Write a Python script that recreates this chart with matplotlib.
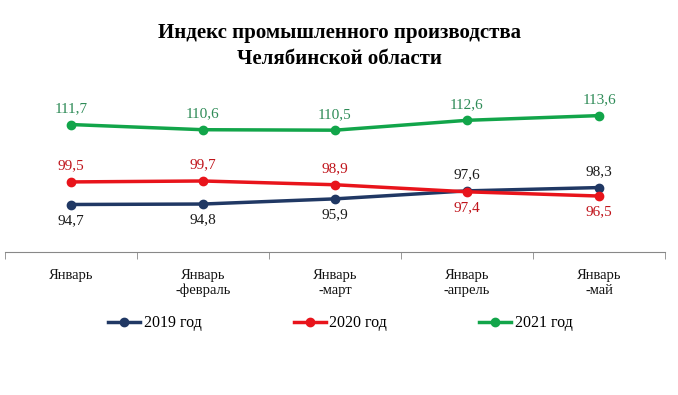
import matplotlib
matplotlib.use("Agg")
import matplotlib.pyplot as plt
import numpy as np

categories = ["Январь", "Январь\n-февраль", "Январь\n-март", "Январь\n-апрель", "Январь\n-май"]
series_names = ["2019 год", "2020 год", "2021 год"]
values_2019 = [94.7, 94.8, 95.9, 97.6, 98.3]
values_2020 = [99.5, 99.7, 98.9, 97.4, 96.5]
values_2021 = [111.7, 110.6, 110.5, 112.6, 113.6]

plt.rcParams["font.family"] = ["Liberation Serif", "DejaVu Serif"]

fig = plt.figure(figsize=(6.78, 3.95), dpi=100)
ax = fig.add_axes([0.0074, 0.362, 0.9735, 0.362])

x = np.arange(len(categories))
line_colors = ["#203864", "#E8141B", "#12A54A"]
text_colors = ["#1a1a1a", "#C0141B", "#2E8B57"]
all_values = [values_2019, values_2020, values_2021]
# label placement per point: +1 above, -1 below
placement = [
    [-1, -1, -1, 1, 1],
    [1, 1, 1, -1, -1],
    [1, 1, 1, 1, 1],
]

for vals, lc, tc, name, pl in zip(all_values, line_colors, text_colors, series_names, placement):
    ax.plot(x, vals, color=lc, lw=2.5, marker="o", ms=6, label=name)
    for xi, v, p in zip(x, vals, pl):
        ax.annotate(f"{v:.1f}".replace(".", ","), (xi, v),
                    xytext=(0, 11.5 * p), textcoords="offset points",
                    ha="center", va="center", fontsize=11, color=tc)

ax.set_xlim(-0.5, len(categories) - 0.5)
ax.set_ylim(84.6, 115)
ax.set_yticks([])
for s in ["top", "right", "left"]:
    ax.spines[s].set_visible(False)
ax.spines["bottom"].set_color("#888888")
ax.set_xticks(x)
ax.set_xticklabels(categories, fontsize=10.5, color="#111111")
ax.tick_params(axis="x", which="major", length=0, pad=12)
ax.set_xticks(np.arange(-0.5, len(categories)), minor=True)
ax.tick_params(axis="x", which="minor", length=5, color="#888888")
ax.patch.set_alpha(0)

fig.text(0.5, 0.884, "Индекс промышленного производства\nЧелябинской области",
         ha="center", va="center", fontsize=15, fontweight="bold", linespacing=1.4)

handles, labels = ax.get_legend_handles_labels()
fig.legend(handles, labels, loc="center", bbox_to_anchor=(0.502, 0.182), ncol=3,
           frameon=False, fontsize=11.5, columnspacing=5.8, handlelength=2,
           handletextpad=0.2)

fig.savefig("out.png", dpi=100)
